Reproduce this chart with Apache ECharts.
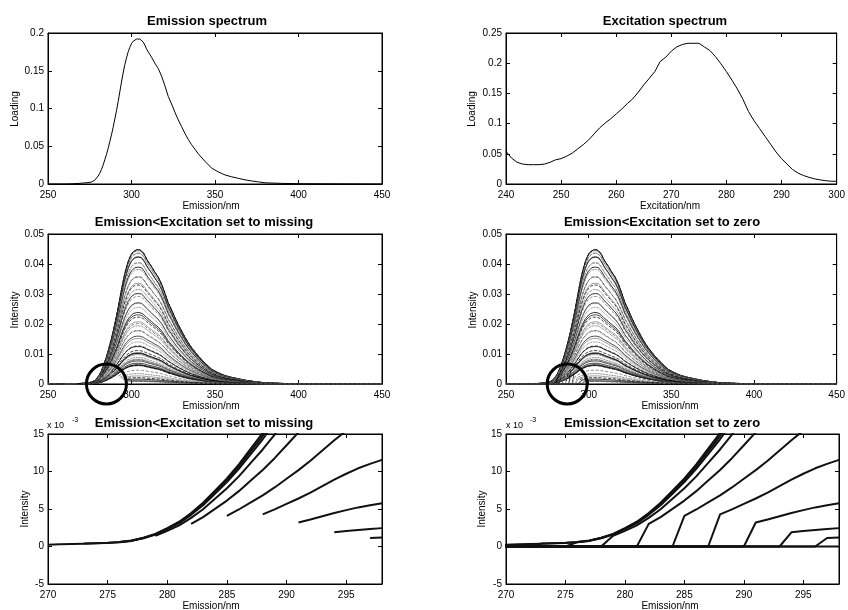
<!DOCTYPE html>
<html>
<head>
<meta charset="utf-8">
<script src="https://cdn.jsdelivr.net/npm/echarts@6/dist/echarts.min.js"></script>
<style>
html,body{margin:0;padding:0;background:#fff;}
#c{width:848px;height:610px;}
</style>
</head>
<body>
<div id="c"></div>
<script>
// ---------------- data ----------------
const emissionWl = [250,255,260,265,268,
  270,271,272,273,274,275,276,277,278,279,
  280,281,282,283,284,285,286,287,288,289,
  290,291,292,293,294,295,296,297,298,299,
  300,301,302,303,304,305,306,307,308,309,310,
  312,314,316,318,320,322,324,326,328,330,332,334,336,338,340,
  344,348,352,356,360,364,368,372,376,380,
  390,400,420,435,450];
const emissionLoading = [0,0,0,0.0003,0.0007,
  0.0011,0.0013,0.0015,0.0017,0.0019,0.0021,0.0026,0.0034,0.005,0.0072,
  0.0105,0.0142,0.0192,0.025,0.032,0.039,0.047,0.056,0.065,0.075,
  0.086,0.097,0.109,0.122,0.135,0.147,0.158,0.167,0.175,0.181,
  0.186,0.189,0.191,0.192,0.192,0.192,0.191,0.188,0.184,0.179,0.175,
  0.168,0.16,0.153,0.143,0.13,0.116,0.106,0.095,0.085,0.076,0.067,0.059,0.052,0.046,0.04,
  0.03,0.021,0.016,0.012,0.0095,0.0075,0.0055,0.004,0.0028,0.0016,
  0.0008,0.0004,0.0002,0.0001,0];

const excitationWl = [240,241,242,243,244,245,246,247,248,249,
  250,251,252,253,254,255,256,257,258,259,
  260,261,262,263,264,265,266,267,268,269,
  270,271,272,273,274,275,276,277,278,279,
  280,281,282,283,284,285,286,287,288,289,
  290,291,292,293,294,295,296,297,298,299,300];
const excitationLoading = [0.054,0.043,0.036,0.033,0.032,0.032,0.032,0.033,0.036,0.040,
  0.042,0.046,0.051,0.058,0.065,0.073,0.083,0.093,0.101,0.108,
  0.116,0.124,0.133,0.141,0.152,0.164,0.175,0.186,0.203,0.210,
  0.220,0.227,0.231,0.233,0.233,0.233,0.227,0.221,0.211,0.199,
  0.186,0.172,0.157,0.140,0.120,0.105,0.092,0.079,0.066,0.053,
  0.042,0.033,0.024,0.018,0.014,0.011,0.0085,0.0068,0.0055,0.0046,0.0044];

// excitations shown in the zoomed (bottom) panels
const zoomExcitations = [270,273,276,279,282,285,288,291,294,297,300];

const titles = ['Emission spectrum','Excitation spectrum',
  'Emission<Excitation set to missing','Emission<Excitation set to zero',
  'Emission<Excitation set to missing','Emission<Excitation set to zero'];
const xNames = ['Emission/nm','Excitation/nm','Emission/nm','Emission/nm','Emission/nm','Emission/nm'];
const yNames = ['Loading','Loading','Intensity','Intensity','Intensity','Intensity'];
const circleCentersNm = [285, 287];

// ---------------- layout ----------------
const FONT = 'Liberation Sans';
const grids = [
  {left:48, top:33, width:334, height:151},
  {left:506, top:33, width:333, height:151},
  {left:48, top:234, width:334, height:150},
  {left:506, top:234, width:333, height:150},
  {left:48, top:434, width:334, height:150},
  {left:506, top:434, width:333, height:150}
];
const axisSpec = [
  {xmin:250,xmax:450,xint:50,ymin:0,ymax:0.2,yint:0.05},
  {xmin:240,xmax:300,xint:10,ymin:0,ymax:0.25,yint:0.05},
  {xmin:250,xmax:450,xint:50,ymin:0,ymax:0.05,yint:0.01},
  {xmin:250,xmax:450,xint:50,ymin:0,ymax:0.05,yint:0.01},
  {xmin:270,xmax:298,xint:5,ymin:-0.005,ymax:0.015,yint:0.005,milli:true},
  {xmin:270,xmax:298,xint:5,ymin:-0.005,ymax:0.015,yint:0.005,milli:true}
];

const xAxes = [], yAxes = [];
axisSpec.forEach((a, g) => {
  const line = {show:true, onZero:false, lineStyle:{color:'#000', width:1}};
  const tick = {show:true, inside:true, length:4, lineStyle:{color:'#000', width:1}};
  const lab = {show:true, color:'#000', fontSize:10, fontFamily:FONT, margin:6, showMaxLabel: (a.xmax % a.xint === 0)};
  xAxes.push({type:'value', gridIndex:g, position:'bottom', min:a.xmin, max:a.xmax, interval:a.xint,
    axisLine:line, axisTick:tick, axisLabel:lab, splitLine:{show:false}});
  xAxes.push({type:'value', gridIndex:g, position:'top', min:a.xmin, max:a.xmax, interval:a.xint,
    axisLine:line, axisTick:tick, axisLabel:{show:false}, splitLine:{show:false}});
  const ylab = {show:true, color:'#000', fontSize:10, fontFamily:FONT, margin:4};
  if (a.milli) ylab.formatter = v => String(Math.round(v*1000));
  yAxes.push({type:'value', gridIndex:g, position:'left', min:a.ymin, max:a.ymax, interval:a.yint,
    axisLine:line, axisTick:tick, axisLabel:ylab, splitLine:{show:false}});
  yAxes.push({type:'value', gridIndex:g, position:'right', min:a.ymin, max:a.ymax, interval:a.yint,
    axisLine:line, axisTick:tick, axisLabel:{show:false}, splitLine:{show:false}});
});

// ---------------- series ----------------
const series = [];
function addLine(g, data, color, width, type, z) {
  series.push({type:'line', xAxisIndex:2*g, yAxisIndex:2*g, data:data, showSymbol:false, symbol:'none',
    lineStyle:{color:color, width:width, type:type||'solid'}, silent:true, animation:false, z:z||2, clip:true});
}
addLine(0, emissionWl.map((w,i)=>[w, emissionLoading[i]]), '#000', 1);
addLine(1, excitationWl.map((w,i)=>[w, excitationLoading[i]]), '#000', 1);

const grays = ['#000','#555','#222','#777','#333','#888','#111'];
const types = ['solid','dotted','solid','dashed','dotted','solid','dashed'];
function curve(ex, scale, mode) {
  const pts = [];
  emissionWl.forEach((w,i) => {
    if (w < ex) { if (mode === 'zero') pts.push([w, 0]); }
    else pts.push([w, scale*emissionLoading[i]]);
  });
  return pts;
}
let firstMiddleSeries = [0,0];
excitationWl.forEach((ex, k) => {
  const s = excitationLoading[k];
  const col = grays[k % grays.length], ty = types[k % types.length];
  if (k === 0) firstMiddleSeries[0] = series.length;
  addLine(2, curve(ex, s, 'missing'), col, 0.8, ty);
});
excitationWl.forEach((ex, k) => {
  const s = excitationLoading[k];
  const col = grays[k % grays.length], ty = types[k % types.length];
  if (k === 0) firstMiddleSeries[1] = series.length;
  addLine(3, curve(ex, s, 'zero'), col, 0.8, ty);
});
zoomExcitations.forEach(ex => {
  const s = excitationLoading[excitationWl.indexOf(ex)];
  addLine(4, curve(ex, s, 'missing'), '#111', 2);
  addLine(5, curve(ex, s, 'zero'), '#111', 2);
});

// ---------------- text ----------------
const titlePos = [[207,21],[665,21],[204,222],[662,222],[204,423],[662,423]];
const xNamePos = [[211,206],[670,206],[211,406],[670,406],[211,606],[670,606]];
const yNamePos = [[15,109],[472,109],[15,310],[473,310],[25,509],[482,509]];
const graphic = [];
titles.forEach((t,i)=>graphic.push({type:'text', x:titlePos[i][0], y:titlePos[i][1], z:50,
  style:{text:t, fontSize:13, fontWeight:'bold', fontFamily:FONT, fill:'#000', align:'center', verticalAlign:'middle'}}));
xNames.forEach((t,i)=>graphic.push({type:'text', x:xNamePos[i][0], y:xNamePos[i][1], z:50,
  style:{text:t, fontSize:10, fontFamily:FONT, fill:'#000', align:'center', verticalAlign:'middle'}}));
yNames.forEach((t,i)=>graphic.push({type:'text', x:yNamePos[i][0], y:yNamePos[i][1], rotation:Math.PI/2, z:50,
  style:{text:t, fontSize:10, fontFamily:FONT, fill:'#000', align:'center', verticalAlign:'middle'}}));
[[47,426,72,420],[506,426,530,420]].forEach(p=>{
  graphic.push({type:'text', x:p[0], y:p[1], z:50, style:{text:'x 10', fontSize:9, fontFamily:FONT, fill:'#000', align:'left', verticalAlign:'middle'}});
  graphic.push({type:'text', x:p[2], y:p[3], z:50, style:{text:'-3', fontSize:7, fontFamily:FONT, fill:'#000', align:'left', verticalAlign:'middle'}});
});

const chart = echarts.init(document.getElementById('c'), null, {renderer:'canvas'});
chart.setOption({
  animation:false,
  backgroundColor:'#fff',
  grid: grids.map(g=>Object.assign({show:true, borderColor:'#000', borderWidth:1, containLabel:false}, g)),
  xAxis: xAxes, yAxis: yAxes, series: series, graphic: graphic
});
// annotation circles placed through the axes scales
const circles = circleCentersNm.map((nm,i)=>{
  const p = chart.convertToPixel({seriesIndex:firstMiddleSeries[i]}, [nm, 0]);
  return {type:'circle', shape:{cx:p[0], cy:p[1], r:20}, z:100, silent:true,
    style:{fill:null, stroke:'#000', lineWidth:3}};
});
chart.setOption({graphic: graphic.concat(circles)});
</script>
</body>
</html>
